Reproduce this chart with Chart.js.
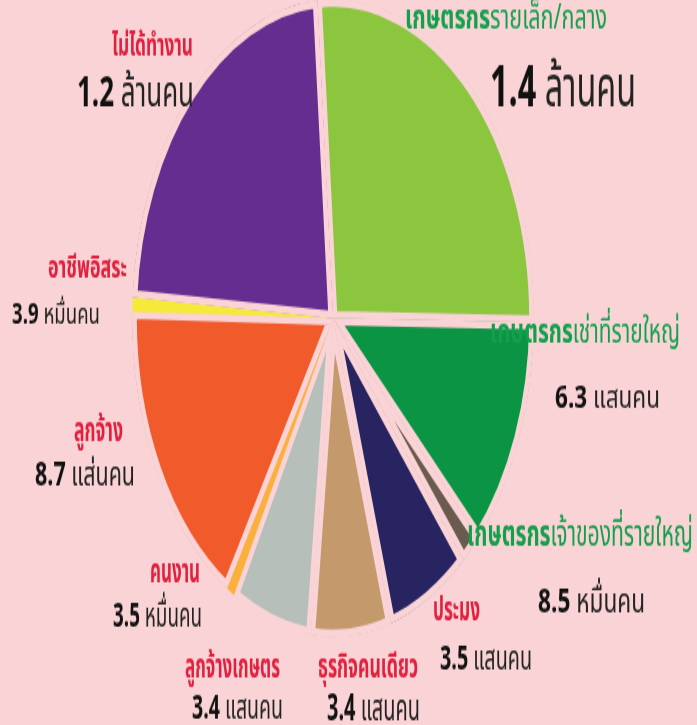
<!DOCTYPE html>
<html>
<head>
<meta charset="utf-8">
<script src="https://cdn.jsdelivr.net/npm/chart.js@4.4.1/dist/chart.umd.min.js"></script>
<style>
  html, body { margin: 0; padding: 0; background: #f9d3d5; }
  #chart { display: block; }
</style>
</head>
<body>
<canvas id="chart" width="697" height="457" style="width:697px;height:725px"></canvas>
<script>
// data (clockwise from 12 o'clock)
const categories = ['เกษตรกรรายเล็ก/กลาง', 'เกษตรกรเช่าที่รายใหญ่', 'เกษตรกรเจ้าของที่รายใหญ่', 'ประมง', 'ธุรกิจคนเดียว', 'ลูกจ้างเกษตร', 'คนงาน', 'ลูกจ้าง', 'อาชีพอิสระ', 'ไม่ได้ทำงาน'];
const people = [1400000, 630000, 85000, 350000, 340000, 340000, 35000, 870000, 39000, 1200000];
const valueNumbers = ['1.4', '6.3', '8.5', '3.5', '3.4', '3.4', '3.5', '8.7', '3.9', '1.2'];
const valueUnits = ['ล้านคน', 'แสนคน', 'หมื่นคน', 'แสนคน', 'แสนคน', 'แสนคน', 'หมื่นคน', 'แส่นคน', 'หมื่นคน', 'ล้านคน'];

const sliceColors = ['#8cc63f', '#0b9444', '#6b5b4f', '#272461', '#c49a6c', '#b6bfb9', '#fbb03b', '#f15a2b', '#f5ea3a', '#652d90'];
const BG = '#f9d3d5';
const RED_TEXT = '#e0203e';
const GREEN_TEXT = '#13a04c';
const FONT = '"Noto Sans Thai", "Noto Sans", "DejaVu Sans", sans-serif';

// the picture is stretched vertically
const STRETCH = 725 / 457;

// label layout in page pixels: left x, width, baseline y, glyph height
const labelLayout = [
  { name: [405, 202, 29, 19], value: [490, 146, 107, 42] },
  { name: [490, 190, 343, 19], value: [555, 105, 408, 23] },
  { name: [467, 226, 545, 20], value: [538, 107, 612, 25] },
  { name: [433, 47, 621, 19], value: [440, 92, 670, 25] },
  { name: [318, 100, 677, 19], value: [327, 93, 720, 26] },
  { name: [185, 95, 677, 19], value: [192, 91, 718, 25] },
  { name: [150, 50, 582, 19], value: [113, 89, 627, 25] },
  { name: [74, 49, 441, 18], value: [35, 100, 486, 24] },
  { name: [48, 79, 277, 17], value: [12, 88, 323, 20] },
  { name: [112, 81, 55, 17], value: [77, 117, 107, 30] }
];

// font size whose glyph `probe` is `h` page pixels tall
function sizeFor(ctx, probe, h) {
  ctx.font = `bold 100px ${FONT}`;
  const a = ctx.measureText(probe).actualBoundingBoxAscent || 70;
  return h / STRETCH / a * 100;
}

function drawParts(ctx, parts, x, width, y) {
  let total = 0;
  parts.forEach(p => { ctx.font = p.font; p.w = ctx.measureText(p.text).width; total += p.w; });
  const sx = width / total;
  ctx.save();
  ctx.translate(x, y / STRETCH);
  ctx.scale(sx, 1);
  ctx.textBaseline = 'alphabetic';
  let cx = 0;
  parts.forEach(p => {
    ctx.font = p.font;
    ctx.fillStyle = p.color;
    ctx.fillText(p.text, cx, 0);
    cx += p.w;
  });
  ctx.restore();
}

const thaiLabels = {
  id: 'thaiLabels',
  afterDraw(chart) {
    const ctx = chart.ctx;
    chart.data.labels.forEach((label, i) => {
      const lay = labelLayout[i];
      const [nx, nw, ny, nh] = lay.name;
      const ns = sizeFor(ctx, 'น', nh);
      let nameParts;
      if (label.startsWith('เกษตรกร')) {
        nameParts = [
          { text: 'เกษตรกร', font: `bold ${ns}px ${FONT}`, color: GREEN_TEXT },
          { text: label.slice(7), font: `${ns}px ${FONT}`, color: GREEN_TEXT }
        ];
      } else {
        nameParts = [{ text: label, font: `bold ${ns}px ${FONT}`, color: RED_TEXT }];
      }
      drawParts(ctx, nameParts, nx, nw, ny);

      const [vx, vw, vy, vh] = lay.value;
      const vs = sizeFor(ctx, '8', vh);
      drawParts(ctx, [
        { text: valueNumbers[i] + ' ', font: `bold ${vs}px ${FONT}`, color: '#111' },
        { text: valueUnits[i], font: `${vs}px ${FONT}`, color: '#222' }
      ], vx, vw, vy);
    });
  }
};

// tiny slices get no border of their own so they stay visible
const borderWidths = people.map(v => v < 50000 ? 0 : 4.5);

new Chart(document.getElementById('chart'), {
  type: 'pie',
  data: {
    labels: categories,
    datasets: [{
      data: people,
      backgroundColor: sliceColors,
      borderColor: BG,
      borderWidth: borderWidths,
      borderAlign: 'inner',
      radius: 201
    }]
  },
  options: {
    responsive: false,
    animation: false,
    events: [],
    rotation: -4.5,
    layout: { padding: { left: 0, right: 31, top: 0, bottom: 56 } },
    plugins: {
      legend: { display: false },
      tooltip: { enabled: false }
    }
  },
  plugins: [thaiLabels]
});
</script>
</body>
</html>
